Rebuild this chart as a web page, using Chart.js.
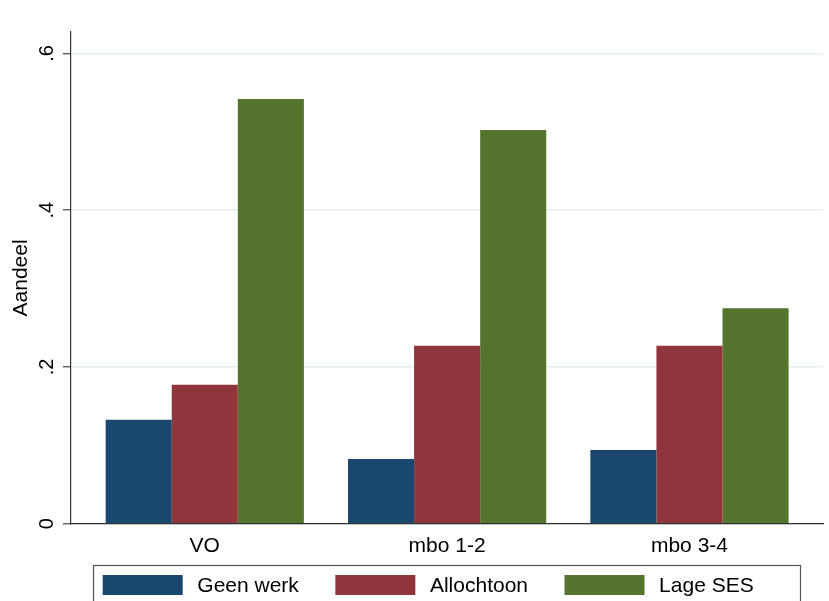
<!DOCTYPE html>
<html>
<head>
<meta charset="utf-8">
<script src="https://cdn.jsdelivr.net/npm/chart.js@4/dist/chart.umd.min.js"></script>
<style>
  html, body { margin: 0; padding: 0; background: #ffffff; }
  #c { display: block; }
</style>
</head>
<body>
<canvas id="c" width="829" height="601"></canvas>
<script>
// ---- data ----
const categories = ['VO', 'mbo 1-2', 'mbo 3-4'];
const seriesNames = ['Geen werk', 'Allochtoon', 'Lage SES'];
const geenWerk = [0.1326, 0.0827, 0.0942];
const allochtoon = [0.1773, 0.2272, 0.2272];
const lageSES = [0.5417, 0.5024, 0.2749];
const yTicks = [0, 0.2, 0.4, 0.6];
const yTickLabels = ['0', '.2', '.4', '.6'];
const yAxisTitle = 'Aandeel';

const seriesValues = [geenWerk, allochtoon, lageSES];
const seriesColors = ['#1a476f', '#90353b', '#55752f'];

const FONT = '"Liberation Sans", Arial, sans-serif';

const datasets = seriesNames.map((name, s) => ({
  label: name,
  data: categories.map((c, i) => ({ x: i, y: seriesValues[s][i] })),
  backgroundColor: seriesColors[s],
  borderWidth: 0,
  categoryPercentage: 0.818,
  barPercentage: 1.0
}));

const stataLegend = {
  id: 'stataLegend',
  afterDraw(chart) {
    const ctx = chart.ctx;
    ctx.save();
    ctx.strokeStyle = '#555555';
    ctx.lineWidth = 1.2;
    ctx.strokeRect(93.5, 565.5, 707, 60);
    ctx.font = '21px ' + FONT;
    ctx.textBaseline = 'middle';
    ctx.textAlign = 'left';
    let x = 102.7;
    chart.data.datasets.forEach(ds => {
      ctx.fillStyle = ds.backgroundColor;
      ctx.fillRect(x, 575, 80, 20);
      x += 80 + 14.6;
      ctx.fillStyle = '#000000';
      ctx.fillText(ds.label, x, 586);
      x += ctx.measureText(ds.label).width + 36.5;
    });
    ctx.restore();
  }
};

new Chart(document.getElementById('c'), {
  type: 'bar',
  data: { datasets },
  plugins: [stataLegend],
  options: {
    responsive: false,
    animation: false,
    devicePixelRatio: 1,
    layout: { padding: { top: 32, right: 6, left: 0, bottom: 32 } },
    plugins: {
      legend: { display: false },
      tooltip: { enabled: false }
    },
    scales: {
      x: {
        type: 'linear',
        offset: false,
        min: -0.552,
        max: 2.551,
        bounds: 'data',
        afterBuildTicks(scale) {
          scale.ticks = categories.map((c, i) => ({ value: i }));
        },
        ticks: {
          callback: (v) => categories[v] ?? '',
          font: { family: FONT, size: 21 },
          color: '#000000',
          padding: 10,
          maxRotation: 0,
          minRotation: 0,
          autoSkip: false
        },
        grid: { display: false, drawTicks: false, offset: false },
        border: { display: true, color: '#333333', width: 1.2 }
      },
      y: {
        type: 'linear',
        min: 0,
        max: 0.6273,
        bounds: 'data',
        afterBuildTicks(scale) {
          scale.ticks = yTicks.map(v => ({ value: v }));
        },
        afterFit(scale) { scale.width = 71; },
        ticks: {
          callback: (v, i) => yTickLabels[i],
          font: { family: FONT, size: 20 },
          color: '#000000',
          minRotation: 90,
          maxRotation: 90,
          crossAlign: 'center',
          padding: 7
        },
        grid: {
          color: '#e4eef1',
          lineWidth: 1.5,
          tickColor: '#444444',
          tickLength: 8,
          tickWidth: 1.2
        },
        border: { display: true, color: '#333333', width: 1.2 },
        title: {
          display: true,
          text: yAxisTitle,
          font: { family: FONT, size: 21 },
          color: '#000000',
          padding: { top: 9, bottom: 0 }
        }
      }
    }
  }
});
</script>
</body>
</html>
